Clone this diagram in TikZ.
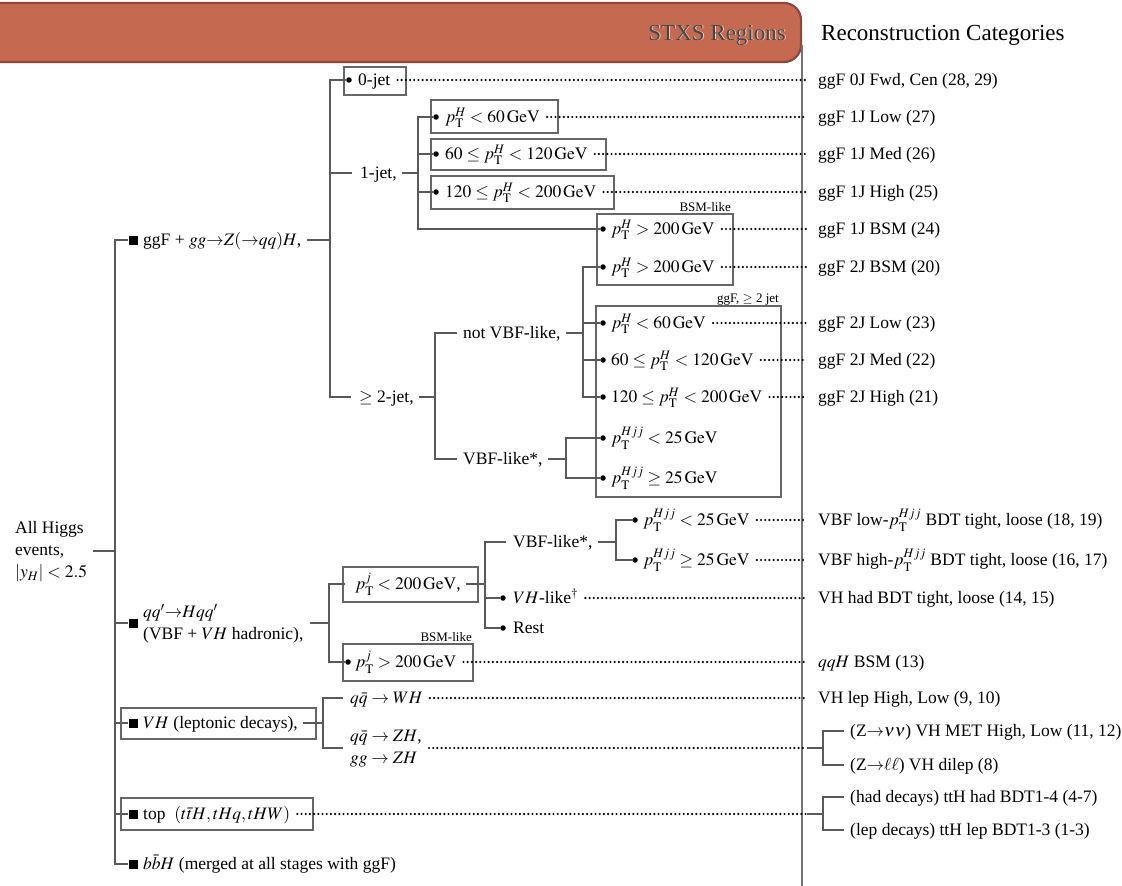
\documentclass[tikz,border=0pt]{standalone}
\usepackage{mathptmx}
\usepackage{fontspec}
\setmainfont{Liberation Serif}
\newcommand\mainsz{\fontsize{17.5}{22}\selectfont}
\newcommand\tagsz{\fontsize{13}{15}\selectfont}
\newcommand\hdrsz{\fontsize{23}{26}\selectfont}
\definecolor{hdrfill}{HTML}{C56A50}
\definecolor{hdredge}{HTML}{934636}
\begin{document}
\begin{tikzpicture}[x=1pt,y=-1pt,
  every node/.style={font=\mainsz, inner sep=0pt},
  lbl/.style={anchor=west, text height=11.5pt, text depth=0pt},
  smalltag/.style={font=\tagsz, anchor=base east},
  wire/.style={draw=black!65, line width=1.3pt},
  boxframe/.style={draw=black!60, line width=1.3pt},
  dotline/.style={draw=black, line width=2.4pt, line cap=round, dash pattern=on 0pt off 4.2pt},
  bul/.style={circle, fill=black, minimum size=5.5pt},
  sq/.style={rectangle, fill=black, minimum size=9pt},
  sepline/.style={draw=black!55, line width=1.8pt},
]
\useasboundingbox (0,0) rectangle (1122,886);

% ---- header ----
\draw[fill=hdrfill, draw=hdredge, line width=2.2pt, rounded corners=17pt] (-40,3) rectangle (801,62);
\node[anchor=base east, font=\hdrsz, text=white!70!hdrfill] (stxsshade) at (786.9,40.9) {STXS Regions};
\node[anchor=base east, font=\hdrsz, text=black!72] (stxs) at (786,40) {STXS Regions};
\node[anchor=base west, font=\hdrsz] (reco) at (821,40) {Reconstruction Categories};
\draw[sepline] (802,45) -- (802,886);

% ---- root and trunk ----
\node[anchor=west, align=left] (all) at (15,552) {All Higgs\\events,\\$|y_H| < 2.5$};
\coordinate (J0) at (115,551);
\draw[wire] ([xshift=6pt]all.east |- J0) -- (J0);

\node[sq] (sq1) at (133,240) {};
\node[sq] (sq2) at (133,623) {};
\node[sq] (sq3) at (133,723) {};
\node[sq] (sq4) at (133,814) {};
\node[sq] (sq5) at (133,864) {};
\foreach \s in {sq1,sq2,sq3,sq4,sq5} \draw[wire] (J0) |- (\s);

\node[lbl] (ggf) at (143,240) {ggF + $gg{\to}Z({\to}qq)H$,};
\node[anchor=west, align=left] (tqq) at (143,624) {$qq'{\to}Hqq'$\\(VBF + $VH$ hadronic),};
\node[lbl] (tvhl) at (143,723) {$VH$ (leptonic decays),};
\node[lbl] (ttop) at (143,814) {top\ \ $(t\bar{t}H, tHq, tHW)$};
\node[lbl] (tbb) at (143,864) {$b\bar{b}H$ (merged at all stages with ggF)};
\draw[boxframe] (121,708) rectangle (316,739);
\draw[boxframe] (121,798) rectangle (313,830);

% ---- ggF: jet multiplicity ----
\coordinate (J1) at (330,240);
\draw[wire] ([xshift=6pt]ggf.east) -- (J1);
\node[bul] (d0j) at (349,80) {};
\node[lbl] (t0j) at (358,80) {0-jet};
\draw[boxframe] (344,67) rectangle (406,95);
\node[lbl] (t1j) at (360,173) {1-jet,};
\node[lbl] (t2j) at (359,397) {$\geq$ 2-jet,};
\draw[wire] (J1) |- (d0j);
\draw[wire] (J1) |- ([xshift=-8pt]t1j.west);
\draw[wire] (J1) |- ([xshift=-8pt]t2j.west);

% 1-jet bins
\coordinate (J2) at (418,173);
\draw[wire] ([xshift=5pt]t1j.east) -- (J2);
\node[bul] (d1a) at (436,117) {};
\node[bul] (d1b) at (436,154) {};
\node[bul] (d1c) at (436,192) {};
\node[lbl] (t1a) at (445,117) {$p_{\mathrm{T}}^{H} < 60\,\mathrm{GeV}$};
\node[lbl] (t1b) at (445,154) {$60 \leq p_{\mathrm{T}}^{H} < 120\,\mathrm{GeV}$};
\node[lbl] (t1c) at (445,192) {$120 \leq p_{\mathrm{T}}^{H} < 200\,\mathrm{GeV}$};
\draw[boxframe] (431,100) rectangle (558,133);
\draw[boxframe] (431,139) rectangle (606,170);
\draw[boxframe] (431,176) rectangle (614,209);

% BSM-like group
\draw[boxframe] (597,214) rectangle (733,285);
\node[smalltag] (bsm1) at (731,211) {BSM-like};
\node[bul] (dB1) at (603,229) {};
\node[bul] (dB2) at (603,267) {};
\node[lbl] (tB1) at (611,229) {$p_{\mathrm{T}}^{H} > 200\,\mathrm{GeV}$};
\node[lbl] (tB2) at (611,267) {$p_{\mathrm{T}}^{H} > 200\,\mathrm{GeV}$};
\foreach \d in {d1a,d1b,d1c,dB1} \draw[wire] (J2) |- (\d);

% >= 2-jet
\coordinate (J3) at (435,397);
\draw[wire] ([xshift=5pt]t2j.east) -- (J3);
\node[lbl] (tnv) at (463,333) {not VBF-like,};
\node[lbl] (tvbf) at (463,459) {VBF-like*,};
\draw[wire] (J3) |- ([xshift=-6pt]tnv.west);
\draw[wire] (J3) |- ([xshift=-6pt]tvbf.west);

\draw[boxframe] (596,306) rectangle (781,497);
\node[smalltag] (gg2) at (779,302) {ggF, $\geq$ 2 jet};
\node[bul] (d2a) at (603,323) {};
\node[bul] (d2b) at (603,360) {};
\node[bul] (d2c) at (603,397) {};
\node[bul] (d2d) at (603,438) {};
\node[bul] (d2e) at (603,478) {};
\node[lbl] (t2a) at (611,323) {$p_{\mathrm{T}}^{H} < 60\,\mathrm{GeV}$};
\node[lbl] (t2b) at (611,360) {$60 \leq p_{\mathrm{T}}^{H} < 120\,\mathrm{GeV}$};
\node[lbl] (t2c) at (611,397) {$120 \leq p_{\mathrm{T}}^{H} < 200\,\mathrm{GeV}$};
\node[lbl] (t2d) at (611,438) {$p_{\mathrm{T}}^{Hjj} < 25\,\mathrm{GeV}$};
\node[lbl] (t2e) at (611,478) {$p_{\mathrm{T}}^{Hjj} \geq 25\,\mathrm{GeV}$};

\coordinate (J4) at (583,333);
\draw[wire] ([xshift=5pt]tnv.east) -- (J4);
\foreach \d in {dB2,d2a,d2b,d2c} \draw[wire] (J4) |- (\d);
\coordinate (J5) at (566,459);
\draw[wire] ([xshift=5pt]tvbf.east) -- (J5);
\foreach \d in {d2d,d2e} \draw[wire] (J5) |- (\d);

% ---- VBF + VH hadronic ----
\coordinate (J6) at (329,623);
\draw[wire] ([xshift=6pt]tqq.east |- J6) -- (J6);
\draw[boxframe] (343,567) rectangle (478,602);
\node[lbl] (tpj1) at (355,584) {$p_{\mathrm{T}}^{j} < 200\,\mathrm{GeV}$,};
\draw[boxframe] (343,644) rectangle (473,681);
\node[smalltag] (bsm2) at (472,641) {BSM-like};
\node[bul] (dpj2) at (348,662) {};
\node[lbl] (tpj2) at (355,662) {$p_{\mathrm{T}}^{j} > 200\,\mathrm{GeV}$};
\draw[wire] (J6) |- ([xshift=-10pt]tpj1.west);
\draw[wire] (J6) |- (dpj2);

\coordinate (J7) at (485,584);
\draw[wire] ([xshift=5pt]tpj1.east) -- (J7);
\node[lbl] (tvbf2) at (513,542) {VBF-like*,};
\node[bul] (dvh) at (503,598) {};
\node[lbl] (tvh) at (513,598) {$VH$-like$^{\dagger}$};
\node[bul] (drest) at (503,628) {};
\node[lbl] (trest) at (513,628) {Rest};
\draw[wire] (J7) |- ([xshift=-7pt]tvbf2.west);
\draw[wire] (J7) |- (dvh);
\draw[wire] (J7) |- (drest);

\coordinate (J8) at (616,542);
\draw[wire] ([xshift=5pt]tvbf2.east) -- (J8);
\node[bul] (dq1) at (635,520) {};
\node[bul] (dq2) at (635,560) {};
\node[lbl] (tq1) at (643,520) {$p_{\mathrm{T}}^{Hjj} < 25\,\mathrm{GeV}$};
\node[lbl] (tq2) at (643,560) {$p_{\mathrm{T}}^{Hjj} \geq 25\,\mathrm{GeV}$};
\draw[wire] (J8) |- (dq1);
\draw[wire] (J8) |- (dq2);

% ---- VH leptonic ----
\coordinate (J9) at (323,723);
\draw[wire] ([xshift=5pt]tvhl.east) -- (J9);
\node[lbl] (twh) at (350,698) {$q\bar{q} \to WH$};
\node[anchor=west, align=left] (tzh) at (350,749) {$q\bar{q} \to ZH$,\\$gg \to ZH$};
\draw[wire] (J9) |- ([xshift=-7pt]twh.west);
\draw[wire] (J9) |- ([xshift=-7pt]tzh.west |- 0,748);

% ---- reconstruction categories ----
\node[lbl] (r0)  at (818,80)  {ggF 0J Fwd, Cen (28, 29)};
\node[lbl] (r1a) at (818,117) {ggF 1J Low (27)};
\node[lbl] (r1b) at (818,154) {ggF 1J Med (26)};
\node[lbl] (r1c) at (818,192) {ggF 1J High (25)};
\node[lbl] (rB1) at (818,229) {ggF 1J BSM (24)};
\node[lbl] (rB2) at (818,267) {ggF 2J BSM (20)};
\node[lbl] (r2a) at (818,323) {ggF 2J Low (23)};
\node[lbl] (r2b) at (818,360) {ggF 2J Med (22)};
\node[lbl] (r2c) at (818,397) {ggF 2J High (21)};
\node[lbl] (rq1) at (818,520) {VBF low-$p_{\mathrm{T}}^{Hjj}$ BDT tight, loose (18, 19)};
\node[lbl] (rq2) at (818,560) {VBF high-$p_{\mathrm{T}}^{Hjj}$ BDT tight, loose (16, 17)};
\node[lbl] (rvh) at (818,598) {VH had BDT tight, loose (14, 15)};
\node[lbl] (rqqh) at (818,662) {$qqH$ BSM (13)};
\node[lbl] (rwh) at (818,698) {VH lep High, Low (9, 10)};
\node[lbl] (rnn) at (850,731) {(Z${\to}\nu\nu$) VH MET High, Low (11, 12)};
\node[lbl] (rll) at (850,765) {(Z${\to}\ell\ell$) VH dilep (8)};
\node[lbl] (rhad) at (850,797) {(had decays) ttH had BDT1-4 (4-7)};
\node[lbl] (rlep) at (850,830) {(lep decays) ttH lep BDT1-3 (1-3)};

\foreach \a/\b in {t0j/r0, t1a/r1a, t1b/r1b, t1c/r1c, tB1/rB1, tB2/rB2,
                   t2a/r2a, t2b/r2b, t2c/r2c, tq1/rq1, tq2/rq2, tvh/rvh,
                   tpj2/rqqh, twh/rwh}
  \draw[dotline] ([xshift=7pt]\a.east) -- ([xshift=-12pt]\b.west);

% split categories on the right
\coordinate (K1) at (807,748);
\coordinate (J10) at (823,748);
\draw[dotline] ([xshift=7pt]tzh.east |- K1) -- (K1);
\draw[wire] (K1) -- (J10);
\draw[wire] (J10) |- ([xshift=-6pt]rnn.west);
\draw[wire] (J10) |- ([xshift=-6pt]rll.west);

\coordinate (K2) at (807,814);
\coordinate (J11) at (823,814);
\draw[dotline] ([xshift=7pt]ttop.east) -- (K2);
\draw[wire] (K2) -- (J11);
\draw[wire] (J11) |- ([xshift=-6pt]rhad.west);
\draw[wire] (J11) |- ([xshift=-6pt]rlep.west);
\end{tikzpicture}
\end{document}
